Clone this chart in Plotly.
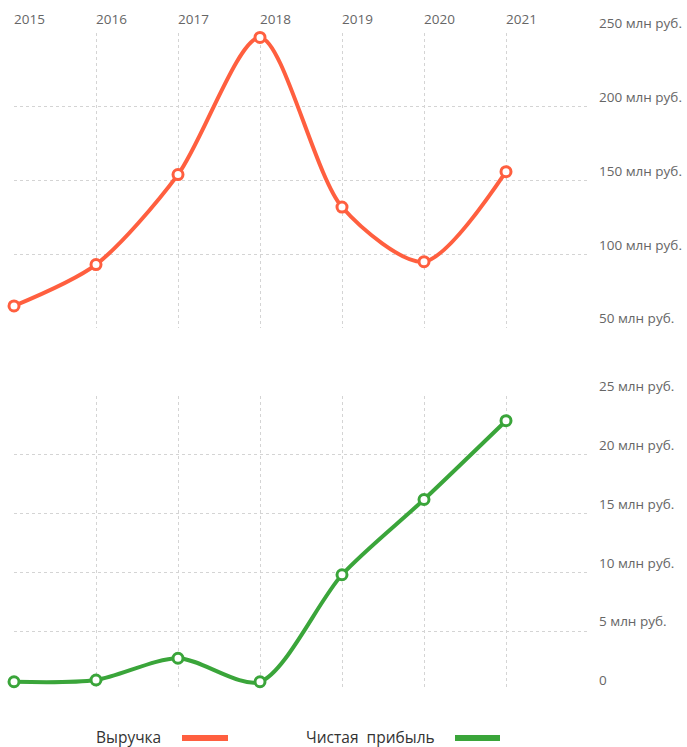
import plotly.graph_objects as go
from plotly.subplots import make_subplots

years = [2015, 2016, 2017, 2018, 2019, 2020, 2021]
revenue = [65, 93, 154, 247, 132, 95, 156]
net_profit = [0.7, 0.85, 2.7, 0.7, 9.8, 16.2, 22.9]

rev_ticks = [50, 100, 150, 200, 250]
rev_labels = ["50 млн руб.", "100 млн руб.", "150 млн руб.", "200 млн руб.", "250 млн руб."]
np_ticks = [0, 5, 10, 15, 20, 25]
np_labels = ["0", "5 млн руб.", "10 млн руб.", "15 млн руб.", "20 млн руб.", "25 млн руб."]

RED = "#FF5F3F"
GREEN = "#3AA53A"
GRID = "#d4d4d4"
FONT = "Open Sans"
TICK_FS = 13.5

W, H = 687, 747
ML, MR, MT, MB = 14, 99, 33, 57
plot_h = H - MT - MB
top_dom = [(690 - 328) / plot_h, 1.0]
bot_dom = [0.0, (690 - 396) / plot_h]

fig = make_subplots(rows=2, cols=1, shared_xaxes=False)

fig.add_trace(go.Scatter(
    x=years, y=revenue, mode="lines+markers", name="Выручка",
    line=dict(color=RED, width=4, shape="spline", smoothing=0.8),
    marker=dict(size=10, color="white", line=dict(color=RED, width=3)),
    cliponaxis=False, showlegend=False), row=1, col=1)

fig.add_trace(go.Scatter(
    x=years, y=net_profit, mode="lines+markers", name="Чистая прибыль",
    line=dict(color=GREEN, width=4, shape="spline", smoothing=0.8),
    marker=dict(size=10, color="white", line=dict(color=GREEN, width=3)),
    cliponaxis=False, showlegend=False), row=2, col=1)

grid = dict(showgrid=True, gridcolor=GRID, griddash="3px,3px", gridwidth=1,
            zeroline=False, showline=False, automargin=False)
tickfont = dict(family=FONT, size=TICK_FS, color="#666666")

fig.update_layout(
    width=W, height=H, autosize=False,
    margin=dict(l=ML, r=MR, t=MT, b=MB),
    paper_bgcolor="white", plot_bgcolor="white",
    font=dict(family=FONT, size=12, color="#666666"),
    xaxis=dict(domain=[0, 1], range=[2015, 2022], side="top",
               tickvals=years, ticktext=[str(y) for y in years],
               ticklabelposition="outside right", ticks="",
               ticklabelstandoff=5,
               tickfont=tickfont, **grid),
    yaxis=dict(domain=top_dom, range=[50, 250], side="right",
               tickvals=rev_ticks, ticktext=rev_labels,
               ticklabelposition="outside top", ticks="",
               ticklabelstandoff=10,
               tickfont=tickfont, **grid),
    xaxis2=dict(domain=[0, 1], range=[2015, 2022], tickvals=years,
                showticklabels=False, **grid),
    yaxis2=dict(domain=bot_dom, range=[0, 25], side="right",
                tickvals=np_ticks, ticktext=np_labels,
                ticklabelposition="outside top", ticks="",
                ticklabelstandoff=10,
                tickfont=tickfont, **grid),
)

def px(x):
    return (x - ML) / (W - ML - MR)

leg_y = -(737 - 690) / plot_h
fig.add_annotation(text="Выручка", xref="paper", yref="paper",
                   x=px(95), y=leg_y, xanchor="left", yanchor="middle",
                   showarrow=False, borderpad=0,
                   font=dict(family=FONT, size=15.5, color="#333333"))
fig.add_annotation(text="Чистая&nbsp;&nbsp;прибыль", xref="paper", yref="paper",
                   x=px(305), y=leg_y, xanchor="left", yanchor="middle",
                   showarrow=False, borderpad=0,
                   font=dict(family=FONT, size=15.5, color="#333333"))
for x0, x1, c in [(182, 228, RED), (455, 500, GREEN)]:
    fig.add_shape(type="rect", xref="paper", yref="paper",
                  x0=px(x0), x1=px(x1),
                  y0=-(741 - 690) / plot_h, y1=-(735 - 690) / plot_h,
                  fillcolor=c, line=dict(width=0))

fig.write_html("out.html")
